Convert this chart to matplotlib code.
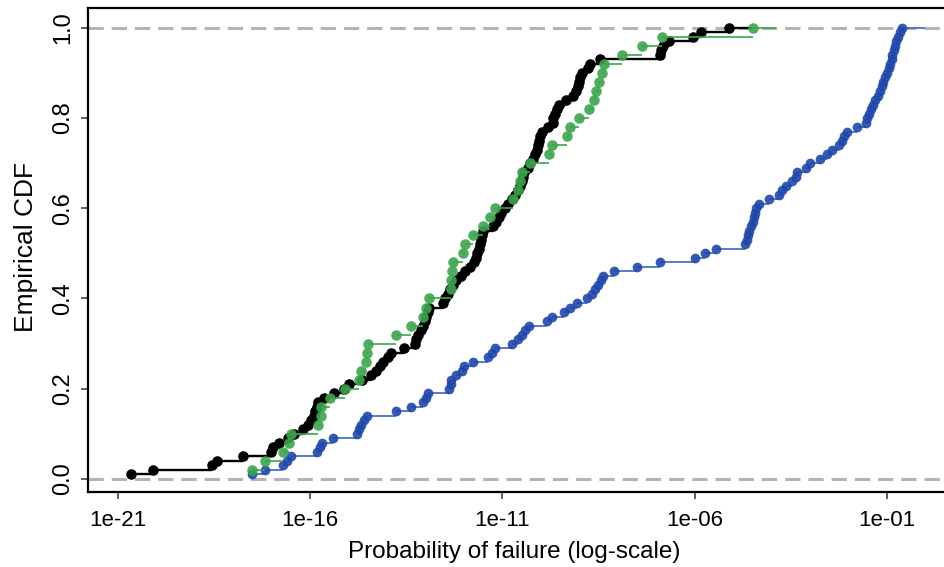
import numpy as np
import matplotlib
matplotlib.use("Agg")
import matplotlib.pyplot as plt

# log10 of probability of failure, sorted
black_log10 = [-20.66, -20.09, -18.55, -18.42, -17.74, -17.00, -16.97, -16.80, -16.58, -16.40,
               -16.18, -16.05, -15.96, -15.90, -15.86, -15.82, -15.78, -15.64, -15.37, -15.12,
               -14.99, -14.65, -14.40, -14.27, -14.17, -14.09, -13.98, -13.89, -13.55, -13.28,
               -13.24, -13.18, -13.12, -13.06, -13.01, -12.97, -12.94, -12.90, -12.55, -12.48,
               -12.42, -12.36, -12.29, -12.20, -12.08, -11.96, -11.83, -11.73, -11.68, -11.65,
               -11.61, -11.58, -11.56, -11.53, -11.49, -11.25, -11.15, -11.08, -11.02, -10.92,
               -10.84, -10.75, -10.67, -10.58, -10.53, -10.50, -10.47, -10.44, -10.34, -10.27,
               -10.20, -10.14, -10.10, -10.07, -10.05, -10.02, -9.97, -9.80, -9.69, -9.67,
               -9.63, -9.59, -9.53, -9.35, -9.15, -9.08, -9.03, -9.00, -8.98, -8.93,
               -8.78, -8.72, -8.45, -6.90, -6.87, -6.83, -6.66, -6.05, -5.84, -5.10]

green_log10 = [-17.51, -17.17, -16.70, -16.55, -16.49, -15.79, -15.72, -15.70, -15.49, -15.10,
               -14.72, -14.68, -14.53, -14.51, -14.49, -13.75, -13.36, -13.05, -12.97, -12.91,
               -12.33, -12.32, -12.30, -12.27, -12.03, -11.97, -11.75, -11.50, -11.32, -11.19,
               -10.71, -10.60, -10.53, -10.49, -10.27, -9.79, -9.71, -9.32, -9.23, -9.01,
               -8.75, -8.62, -8.56, -8.49, -8.40, -8.36, -7.88, -7.36, -6.84, -4.49]

blue_log10 = [-17.51, -17.17, -16.70, -16.60, -16.49, -15.81, -15.75, -15.69, -15.40, -14.78,
              -14.73, -14.68, -14.60, -14.51, -13.75, -13.36, -13.05, -12.99, -12.92, -12.38,
              -12.34, -12.32, -12.20, -12.05, -11.99, -11.75, -11.36, -11.27, -11.18, -10.75,
              -10.60, -10.50, -10.40, -10.30, -9.85, -9.71, -9.40, -9.25, -9.05, -8.80,
              -8.68, -8.58, -8.50, -8.43, -8.38, -8.10, -7.50, -6.90, -6.00, -5.72,
              -5.45, -4.70, -4.65, -4.61, -4.58, -4.54, -4.49, -4.46, -4.44, -4.40,
              -4.32, -4.08, -3.80, -3.73, -3.62, -3.48, -3.37, -3.33, -3.10, -2.99,
              -2.75, -2.56, -2.43, -2.25, -2.16, -2.11, -2.05, -1.78, -1.55, -1.51,
              -1.47, -1.41, -1.36, -1.31, -1.24, -1.19, -1.14, -1.10, -1.06, -1.01,
              -0.96, -0.92, -0.88, -0.86, -0.83, -0.80, -0.77, -0.71, -0.66, -0.62]

x_ticks = [1e-21, 1e-16, 1e-11, 1e-06, 1e-01]
x_tick_labels = ["1e-21", "1e-16", "1e-11", "1e-06", "1e-01"]
y_ticks = [0.0, 0.2, 0.4, 0.6, 0.8, 1.0]
y_tick_labels = ["0.0", "0.2", "0.4", "0.6", "0.8", "1.0"]
x_label = "Probability of failure (log-scale)"
y_label = "Empirical CDF"

plt.rcParams['font.family'] = ['Liberation Sans', 'DejaVu Sans']

W, H = 945, 567
fig = plt.figure(figsize=(W / 100, H / 100), dpi=100)
L, R, B, T = 88, 950, 492, 8
ax = fig.add_axes([L / W, (H - B) / H, (R - L) / W, (B - T) / H])

ax.set_xscale('log')
ax.set_xlim(10 ** -21.767, 10 ** 0.637)
ax.set_ylim(-0.029, 1.044)

# reference lines
for yv in (0.0, 1.0):
    ax.axhline(yv, color='#b4b4b4', lw=2.2, ls=(0, (5, 2.6)), zorder=1)


def ecdf(ax, logs, line_color, pt_color, lw, ms, alpha, z, ext=0.6):
    x = np.sort(10.0 ** np.asarray(logs))
    n = len(x)
    y = np.arange(1, n + 1) / n
    x_next = np.append(x[1:], x[-1] * 10 ** ext)
    ax.hlines(y, x, x_next, color=line_color, lw=lw, zorder=z)
    ax.plot(x, y, 'o', color=pt_color, ms=ms, mew=0, alpha=alpha, zorder=z + 0.5)


ecdf(ax, blue_log10, '#4a70c8', '#1f48ac', 1.3, 7.0, 0.9, 2)
ecdf(ax, black_log10, '#000000', '#000000', 1.7, 7.6, 1.0, 3)
ecdf(ax, green_log10, '#3aa64c', '#3aa64c', 1.2, 7.6, 0.9, 4)

ax.xaxis.set_major_locator(matplotlib.ticker.FixedLocator(x_ticks))
ax.xaxis.set_minor_locator(matplotlib.ticker.NullLocator())
ax.set_xticks(x_ticks)
ax.set_xticklabels(x_tick_labels, fontsize=16)
ax.set_yticks(y_ticks)
ax.set_yticklabels(y_tick_labels, fontsize=17, rotation=90, va='center')

ax.tick_params(axis='both', direction='out', length=5, width=1.1, color='#333333')
ax.tick_params(axis='x', pad=8)
ax.tick_params(axis='y', pad=5)

for s in ax.spines.values():
    s.set_linewidth(1.6)
    s.set_color('black')

ax.set_xlabel(x_label, fontsize=17.5)
ax.xaxis.set_label_coords((514.5 - L) / (R - L), (B - 541) / (B - T))
ax.set_ylabel(y_label, fontsize=19)
ax.yaxis.set_label_coords((38 - L) / (R - L), (B - 246.5) / (B - T))

fig.savefig("out.png", dpi=100)
